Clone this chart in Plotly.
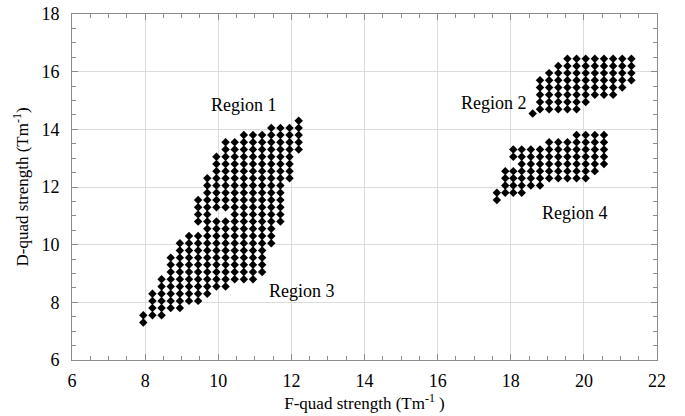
import plotly.graph_objects as go

# ---- data: column x position -> list of y values ----
region13_cols = [7.95, 8.2, 8.45, 8.7, 8.95, 9.2, 9.45, 9.7, 9.95, 10.2, 10.45, 10.7, 10.95, 11.2, 11.45, 11.7, 11.95, 12.2]
region13_ys = [
    [7.3, 7.55],
    [7.55, 7.8, 8.05, 8.3],
    [7.55, 7.8, 8.05, 8.3, 8.55, 8.8],
    [7.8, 8.05, 8.3, 8.55, 8.8, 9.05, 9.3, 9.55],
    [7.8, 8.05, 8.3, 8.55, 8.8, 9.05, 9.3, 9.55, 9.8, 10.05],
    [8.05, 8.3, 8.55, 8.8, 9.05, 9.3, 9.55, 9.8, 10.05, 10.3],
    [8.05, 8.3, 8.55, 8.8, 9.05, 9.3, 9.55, 9.8, 10.05, 10.3, 10.8, 11.05, 11.3, 11.55],
    [8.3, 8.55, 8.8, 9.05, 9.3, 9.55, 9.8, 10.05, 10.3, 10.55, 10.8, 11.05, 11.3, 11.55, 11.8, 12.05, 12.3],
    [8.55, 8.8, 9.05, 9.3, 9.55, 9.8, 10.05, 10.3, 10.55, 10.8, 11.3, 11.55, 11.8, 12.05, 12.3, 12.55, 12.8, 13.05],
    [8.55, 8.8, 9.05, 9.3, 9.55, 9.8, 10.05, 10.3, 10.55, 10.8, 11.3, 11.55, 11.8, 12.05, 12.3, 12.55, 12.8, 13.05, 13.3, 13.55],
    [8.8, 9.05, 9.3, 9.55, 9.8, 10.05, 10.3, 10.55, 10.8, 11.05, 11.3, 11.55, 11.8, 12.05, 12.3, 12.55, 12.8, 13.05, 13.3, 13.55],
    [8.8, 9.05, 9.3, 9.55, 9.8, 10.05, 10.3, 10.55, 10.8, 11.05, 11.3, 11.55, 11.8, 12.05, 12.3, 12.55, 12.8, 13.05, 13.3, 13.55, 13.8],
    [8.8, 9.05, 9.3, 9.55, 9.8, 10.05, 10.3, 10.55, 10.8, 11.05, 11.3, 11.55, 11.8, 12.05, 12.3, 12.55, 12.8, 13.05, 13.3, 13.55, 13.8],
    [9.05, 9.3, 9.55, 9.8, 10.05, 10.3, 10.55, 10.8, 11.05, 11.3, 11.55, 11.8, 12.05, 12.3, 12.55, 12.8, 13.05, 13.3, 13.55, 13.8],
    [10.05, 10.3, 10.55, 10.8, 11.05, 11.3, 11.55, 11.8, 12.05, 12.3, 12.55, 12.8, 13.05, 13.3, 13.55, 13.8, 14.05],
    [10.8, 11.05, 11.3, 11.55, 11.8, 12.05, 12.3, 12.55, 12.8, 13.05, 13.3, 13.55, 13.8, 14.05],
    [12.3, 12.55, 12.8, 13.05, 13.3, 13.55, 13.8, 14.05],
    [13.3, 13.55, 13.8, 14.05, 14.3],
]

region2_cols = [18.6, 18.8, 19.05, 19.3, 19.55, 19.8, 20.05, 20.3, 20.55, 20.8, 21.05, 21.3]
region2_ys = [
    [14.55],
    [14.7, 14.95, 15.2, 15.45, 15.7],
    [14.7, 14.95, 15.2, 15.45, 15.7, 15.95],
    [14.7, 14.95, 15.2, 15.45, 15.7, 15.95, 16.2],
    [14.7, 14.95, 15.2, 15.45, 15.7, 15.95, 16.2, 16.45],
    [14.7, 14.95, 15.2, 15.45, 15.7, 15.95, 16.2, 16.45],
    [14.95, 15.2, 15.45, 15.7, 15.95, 16.2, 16.45],
    [15.2, 15.45, 15.7, 15.95, 16.2, 16.45],
    [15.2, 15.45, 15.7, 15.95, 16.2, 16.45],
    [15.2, 15.45, 15.7, 15.95, 16.2, 16.45],
    [15.45, 15.7, 15.95, 16.2, 16.45],
    [15.7, 15.95, 16.2, 16.45],
]

region4_cols = [17.62, 17.85, 18.07, 18.3, 18.55, 18.8, 19.05, 19.3, 19.55, 19.8, 20.05, 20.3, 20.55]
region4_ys = [
    [11.55, 11.8],
    [11.8, 12.05, 12.3, 12.55],
    [11.8, 12.05, 12.3, 12.55, 13.05, 13.3],
    [11.8, 12.05, 12.3, 12.55, 12.8, 13.05, 13.3],
    [12.05, 12.3, 12.55, 12.8, 13.05, 13.3],
    [12.05, 12.3, 12.55, 12.8, 13.05, 13.3],
    [12.3, 12.55, 12.8, 13.05, 13.3, 13.55],
    [12.3, 12.55, 12.8, 13.05, 13.3, 13.55],
    [12.3, 12.55, 12.8, 13.05, 13.3, 13.55],
    [12.3, 12.55, 12.8, 13.05, 13.3, 13.55, 13.8],
    [12.3, 12.55, 12.8, 13.05, 13.3, 13.55, 13.8],
    [12.55, 12.8, 13.05, 13.3, 13.55, 13.8],
    [12.8, 13.05, 13.3, 13.55, 13.8],
]

region_labels = ["Region 1", "Region 2", "Region 3", "Region 4"]
label_x = [10.7, 17.55, 12.3, 19.75]
label_y = [14.85, 14.9, 8.4, 11.1]

x_ticks = [6, 8, 10, 12, 14, 16, 18, 20, 22]
y_ticks = [6, 8, 10, 12, 14, 16, 18]

xs, ys = [], []
for cols, yl in [(region13_cols, region13_ys), (region2_cols, region2_ys), (region4_cols, region4_ys)]:
    for cx, col in zip(cols, yl):
        for v in col:
            xs.append(cx)
            ys.append(v)

FONT = "'Times New Roman', 'Liberation Serif', Times, serif"

fig = go.Figure()
fig.add_trace(go.Scatter(
    x=xs, y=ys, mode="markers",
    marker=dict(symbol="diamond", size=6.5, color="black", line=dict(width=0)),
    showlegend=False, hoverinfo="skip",
))

for t, ax_, ay_ in zip(region_labels, label_x, label_y):
    fig.add_annotation(x=ax_, y=ay_, text=t, showarrow=False,
                       font=dict(family=FONT, size=18, color="black"))

axis_common = dict(
    showline=True, linecolor="#8c8c8c", linewidth=1, mirror="allticks",
    ticks="inside", ticklen=6, tickcolor="#8c8c8c", tickwidth=1,
    showgrid=True, gridcolor="#dcdcdc", gridwidth=1, zeroline=False,
    tickfont=dict(family=FONT, size=18, color="black"),
    minor=dict(dtick=0.5, ticks="inside", ticklen=4, tickcolor="#8c8c8c", showgrid=False),
    automargin=False,
)

fig.update_xaxes(range=[6, 22], tickvals=x_ticks, ticktext=[str(v) for v in x_ticks],
                 title=dict(text="F-quad strength (Tm<sup>-1</sup> )", font=dict(family=FONT, size=17, color="black"), standoff=6),
                 ticklabelstandoff=4,
                 **axis_common)
fig.update_yaxes(range=[6, 18], tickvals=y_ticks, ticktext=[str(v) for v in y_ticks],
                 title=dict(text="D-quad strength (Tm<sup>-1</sup>)", font=dict(family=FONT, size=17, color="black"), standoff=8),
                 ticklabelstandoff=8,
                 **axis_common)

fig.update_layout(
    width=685, height=416,
    margin=dict(l=72, r=28, t=14, b=56),
    plot_bgcolor="white", paper_bgcolor="white",
    font=dict(family=FONT, size=17, color="black"),
)

fig.write_html("out.html")
